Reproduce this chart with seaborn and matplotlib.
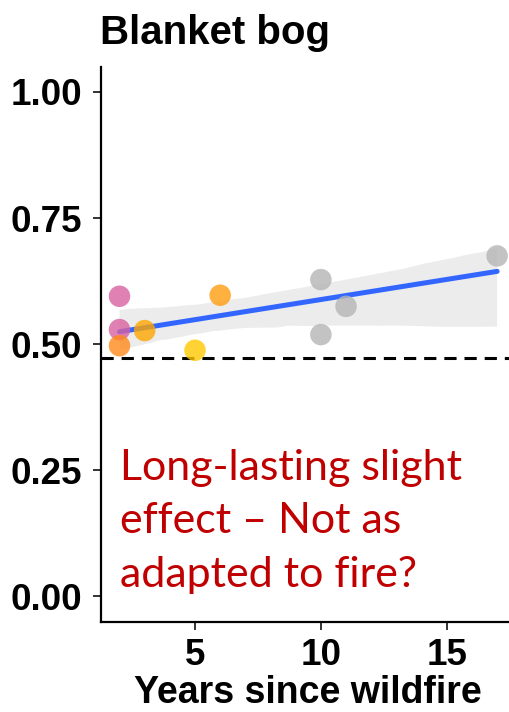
import matplotlib
matplotlib.use("Agg")
import matplotlib.pyplot as plt
import seaborn as sns
import pandas as pd

# ---- data ----
years = [2, 2, 2, 3, 5, 6, 10, 10, 11, 17]
values = [0.595, 0.529, 0.497, 0.527, 0.488, 0.597, 0.628, 0.519, 0.575, 0.675]
groups = ["pink", "pink", "orange", "amber", "yellow", "amber2",
          "grey", "grey", "grey", "grey"]
group_colors = {"pink": "#d8629f", "orange": "#ff8a1a", "amber": "#ffa600",
                "yellow": "#ffc800", "amber2": "#ff9e10", "grey": "#b5b5b5"}
reference_level = 0.473
x_ticks = [5, 10, 15]
y_ticks = [0.00, 0.25, 0.50, 0.75, 1.00]
title = "Blanket bog"
x_label = "Years since wildfire"
note = "Long-lasting slight\neffect \u2013 Not as\nadapted to fire?"

df = pd.DataFrame({"years": years, "value": values, "group": groups})

sns.set_theme(style="ticks")
plt.rcParams["font.family"] = ["Liberation Sans", "DejaVu Sans"]
plt.rcParams["text.color"] = "black"
plt.rcParams["axes.labelcolor"] = "black"

W, H = 509, 712
fig = plt.figure(figsize=(W / 100, H / 100), dpi=100)
left_px, right_px, top_px, bottom_px = 100.6, 516.0, 66.7, 621.7
ax = fig.add_axes([left_px / W, 1 - bottom_px / H,
                   (right_px - left_px) / W, (bottom_px - top_px) / H])

sns.regplot(data=df, x="years", y="value", scatter=False, ax=ax, ci=95, seed=3,
            line_kws={"color": "#3366FF", "linewidth": 3.6, "zorder": 3})
for coll in ax.collections:
    coll.set_facecolor("#999999")
    coll.set_alpha(0.18)
    coll.set_edgecolor("none")

ax.axhline(reference_level, color="black", linewidth=2.2, dashes=(4, 2.6), zorder=2)

sns.scatterplot(data=df, x="years", y="value", hue="group", palette=group_colors,
                s=240, alpha=0.8, linewidth=0, legend=False, ax=ax, zorder=4)

ax.set_xlim(1.25, 17.75)
ax.set_ylim(-0.05, 1.05)
ax.set_xticks(x_ticks)
ax.set_yticks(y_ticks)
ax.set_yticklabels([f"{v:.2f}" for v in y_ticks])
ax.set_xlabel(x_label, fontsize=27, fontweight="bold", labelpad=2, color="black")
ax.set_ylabel("")
for lab in ax.get_xticklabels() + ax.get_yticklabels():
    lab.set_fontweight("bold")
ax.tick_params(axis="both", labelsize=26.5, length=5.5, width=1.4, color="#333333",
               labelcolor="black")
ax.tick_params(axis="x", pad=6)
ax.tick_params(axis="y", pad=8)
sns.despine(ax=ax)
for sp in ("left", "bottom"):
    ax.spines[sp].set_linewidth(1.6)
    ax.spines[sp].set_color("black")

fig.text(100 / W, 1 - 44 / H, title, fontsize=29, fontweight="bold",
         ha="left", va="baseline", color="black")

ax.text(2.02, 0.293, note, color="#C00000", fontsize=31, family=["Lato", "DejaVu Sans"],
        ha="left", va="top", linespacing=1.5, zorder=5)

fig.savefig("out.png", dpi=100)
